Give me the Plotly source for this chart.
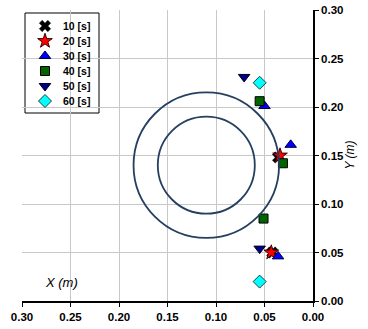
import plotly.graph_objects as go

# ---- data ----
series_names = ["10 [s]", "20 [s]", "30 [s]", "40 [s]", "50 [s]", "60 [s]"]
x_10 = [0.036, 0.042]
y_10 = [0.148, 0.050]
x_20 = [0.034, 0.043]
y_20 = [0.150, 0.050]
x_30 = [0.023, 0.036, 0.050]
y_30 = [0.161, 0.046, 0.201]
x_40 = [0.031, 0.051, 0.055]
y_40 = [0.142, 0.085, 0.206]
x_50 = [0.055, 0.071]
y_50 = [0.054, 0.231]
x_60 = [0.055, 0.055]
y_60 = [0.020, 0.225]

circle_center = (0.11, 0.14)
circle_radii = [0.05, 0.075]

tick_vals = [0.00, 0.05, 0.10, 0.15, 0.20, 0.25, 0.30]
tick_text = ["0.00", "0.05", "0.10", "0.15", "0.20", "0.25", "0.30"]

# ---- styles ----
styles = [
    dict(symbol="x", color="#000000", line=dict(color="#000000", width=0.5), size=10),
    dict(symbol="star", color="#ff0000", line=dict(color="#400000", width=1), size=11),
    dict(symbol="triangle-up", color="#0000ff", line=dict(color="#000040", width=1), size=10),
    dict(symbol="square", color="#006400", line=dict(color="#000000", width=1), size=9),
    dict(symbol="triangle-down", color="#000080", line=dict(color="#000020", width=1), size=10),
    dict(symbol="diamond", color="#00ffff", line=dict(color="#204040", width=1), size=10),
]
xs = [x_10, x_20, x_30, x_40, x_50, x_60]
ys = [y_10, y_20, y_30, y_40, y_50, y_60]

font_family = "Liberation Sans, Arial, sans-serif"

fig = go.Figure()

# circles
cx, cy = circle_center
for r in circle_radii:
    fig.add_shape(type="circle", xref="x", yref="y",
                  x0=cx - r, x1=cx + r, y0=cy - r, y1=cy + r,
                  line=dict(color="#243F60", width=1.8), layer="above")

for name, x, y, st in zip(series_names, xs, ys, styles):
    fig.add_trace(go.Scatter(x=x, y=y, mode="markers", name=name,
                             marker=st, cliponaxis=False, showlegend=False))

# ---- legend (drawn on an overlay axis measured in rows) ----
ROW_PX = 15.0          # row spacing in px
PLOT_H = 291.0         # plot height in px
PLOT_W = 291.0
first_row_px = 16.0    # first row centre below plot top
rows_span = PLOT_H / ROW_PX
y2_top = -first_row_px / ROW_PX
fig.add_shape(type="rect", xref="paper", yref="paper",
              x0=3 / PLOT_W, x1=77 / PLOT_W, y0=1 - 103 / PLOT_H, y1=1 - 3 / PLOT_H,
              fillcolor="white", line=dict(color="#000000", width=1), layer="between")
for i, (name, st) in enumerate(zip(series_names, styles)):
    fig.add_trace(go.Scatter(x=[23], y=[i], xaxis="x2", yaxis="y2", mode="markers",
                             marker=st, showlegend=False, hoverinfo="skip",
                             cliponaxis=False))
    fig.add_annotation(x=39, y=i, xref="x2", yref="y2", text=name, showarrow=False,
                       xanchor="left", yanchor="middle",
                       font=dict(family=font_family, size=10.5, color="#000000",
                                 weight="bold"))

axis_common = dict(tickvals=tick_vals, ticktext=tick_text, automargin=False,
                   showgrid=True, gridcolor="#c8c8c8", gridwidth=1,
                   zeroline=False, showline=True, linecolor="#000000", linewidth=1.5,
                   ticks="outside", ticklen=4, tickcolor="#000000", fixedrange=True,
                   tickfont=dict(family=font_family, size=11.5, weight="bold"))

fig.update_layout(
    width=368, height=329,
    margin=dict(l=22, r=55, t=10, b=28, autoexpand=False),
    paper_bgcolor="white", plot_bgcolor="white",
    showlegend=False,
    font=dict(family=font_family, color="#000000"),
    xaxis=dict(range=[0.30, 0.00], **axis_common),
    yaxis=dict(range=[0.00, 0.30], side="right", **axis_common),
    xaxis2=dict(overlaying="x", anchor="y2", range=[0, PLOT_W], visible=False,
                fixedrange=True),
    yaxis2=dict(overlaying="y", anchor="x2", range=[y2_top + rows_span, y2_top],
                visible=False, fixedrange=True),
)

fig.add_annotation(x=0.259, y=0.0186, xref="x", yref="y", text="<i>X (m)</i>",
                   showarrow=False, font=dict(family=font_family, size=13))
fig.add_annotation(x=1.0, y=0.5, xref="paper", yref="paper", xshift=45,
                   text="<i>Y (m)</i>", textangle=-90, showarrow=False,
                   font=dict(family=font_family, size=12))

fig.write_html("out.html", config=dict(displayModeBar=False),
               post_script="document.body.style.margin='0';")
